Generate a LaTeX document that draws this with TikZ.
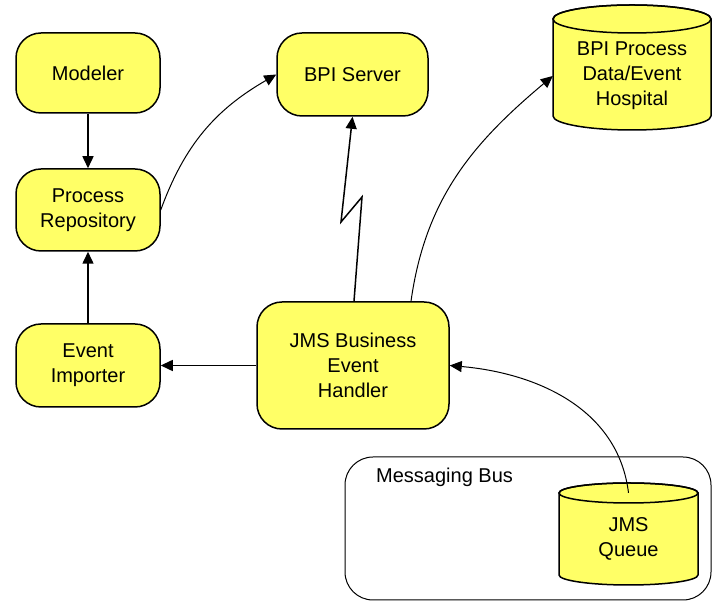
\documentclass[tikz,border=0pt]{standalone}
\usepackage{fontspec}
\setmainfont{Liberation Sans}
\usetikzlibrary{arrows.meta}
\definecolor{pale}{HTML}{FFFF66}
% drum: centre x, top y, bottom y, x radius, y radius
\newcommand\drum[5]{%
 \filldraw[fill=pale,line width=1.5pt] (#1-#4,#2) -- (#1-#4,#3)
  arc[start angle=180,end angle=360,x radius=#4pt,y radius=#5pt]
  -- (#1+#4,#2)
  arc[start angle=0,end angle=180,x radius=#4pt,y radius=#5pt] -- cycle;
 \draw[line width=1.5pt] (#1,#2) ellipse[x radius=#4pt,y radius=#5pt];}
\begin{document}
\begin{tikzpicture}[x=1pt,y=1pt,
 every node/.style={font=\fontsize{20}{25}\selectfont},
 blob/.style={draw,fill=pale,line width=1.5pt,rounded corners=25pt,align=center,inner sep=0pt},
 label/.style={align=center,inner sep=0pt},
 link/.style={line width=1.5pt,-{Triangle[length=12pt,width=11pt]}},
 wire/.style={line width=1pt,-{Triangle[length=12pt,width=11pt]}}]
\useasboundingbox (0,0) rectangle (713,601);
\node[blob,minimum width=144pt,minimum height=80pt] (modeler) at (88,528) {Modeler};
\node[blob,minimum width=144pt,minimum height=82pt] (repo) at (88,391) {Process\\Repository};
\node[blob,minimum width=144pt,minimum height=83pt] (importer) at (88,235.5) {Event\\Importer};
\node[blob,minimum width=151pt,minimum height=83pt] (server) at (352.5,526.5) {BPI Server};
\node[blob,minimum width=192pt,minimum height=127pt] (handler) at (353,235.5) {JMS Business\\Event\\Handler};
\drum{632}{582}{485}{79}{14}
\node[label,minimum width=158pt] (hosp) at (632,525) {BPI Process\\Data/Event\\Hospital};
\node[draw,line width=1pt,rounded corners=28pt,minimum width=366pt,minimum height=143pt] (bus) at (528,72.5) {};
\node[inner sep=0pt,anchor=base west] (buslabel) at (376,118) {Messaging Bus};
\drum{628.5}{108}{26}{69.5}{10}
\node[label,minimum height=91pt] (queue) at (628.5,62.5) {JMS\\Queue};
\draw[link] (modeler.south) -- (repo.north);
\draw[link] (importer.north) -- (repo.south);
\draw[link] (handler.west) -- (importer.east);
\draw[wire] (repo.east) to[out=70,in=210] (server.west);
\draw[link] ([xshift=1pt]handler.north) -- (362,404) -- (341,379) -- (server.south);
\draw[wire] ([xshift=58pt]handler.north) to[out=82,in=220] (hosp.west);
\draw[wire] (queue.north) to[out=97,in=-5] (handler.east);
\end{tikzpicture}
\end{document}
